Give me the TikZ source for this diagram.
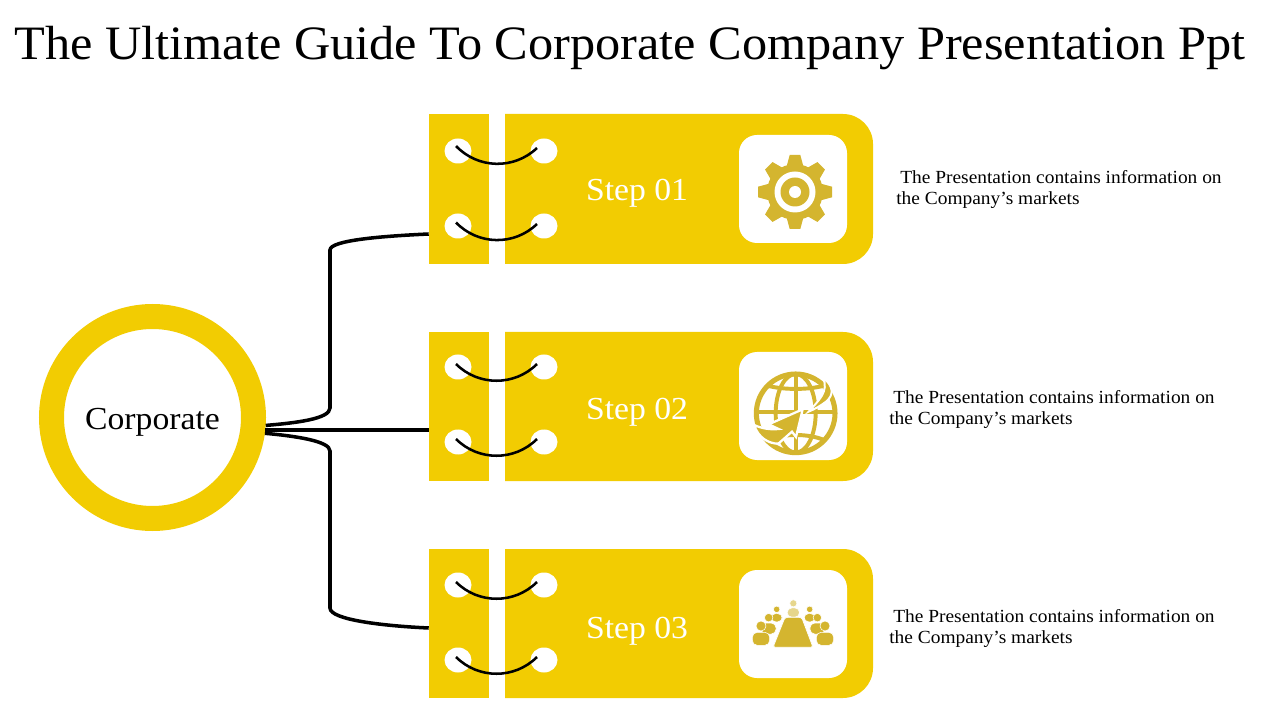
\documentclass[tikz,border=0pt]{standalone}
\usepackage{xcolor}
\usepackage{fontspec}
\setmainfont[FakeStretch=1.05]{Liberation Serif}
\usepackage{pgf,tikz}
\usetikzlibrary{shapes.geometric,positioning,calc}
\definecolor{cardfill}{HTML}{F2CC02}
\definecolor{iconfill}{HTML}{D4B52F}
\definecolor{iconpale}{HTML}{E6D68C}
\newcommand{\px}{0.025cm}
\tikzset{
  ringnode/.style={shape=circle,draw=cardfill,line width=25*\px,minimum size=202*\px,inner sep=0,outer sep=12.5*\px,font=\fontsize{22.8}{26}\selectfont},
  flapnode/.style={shape=rectangle,fill=cardfill,minimum width=60*\px,minimum height=150*\px,inner sep=0},
  iconbox/.style={shape=rectangle,fill=white,rounded corners=0.45cm,minimum size=108*\px,inner sep=0},
  hole/.style={shape=ellipse,fill=white,minimum width=27*\px,minimum height=25*\px,inner sep=0},
  lace/.style={draw=black,line width=1.8pt},
  wire/.style={draw=black,line width=2.5pt},
  steplabel/.style={text=white,inner sep=0,font=\fontsize{22.8}{26}\selectfont},
  infotext/.style={anchor=west,align=left,inner sep=0,font=\fontsize{13.15}{14.9}\selectfont},
  iconline/.style={draw=iconfill,line width=2.8pt},
  person/.pic={
    \path[pic actions,draw=white,line width=0.4pt,rounded corners=0.12cm] (-26,19) rectangle (26,58);
    \path[pic actions,draw=white,line width=0.4pt] (0,0) circle [radius=15];
  },
  gearbar/.pic={
    \fill[iconfill] (-37,-5.3) -- (-27,-8) -- (27,-8) -- (37,-5.3) -- (37,5.3) -- (27,8) -- (-27,8) -- (-37,5.3) -- cycle;
  }
}
\begin{document}
\begin{tikzpicture}[x=0.025cm,y=-0.025cm]
    \useasboundingbox (0,0) rectangle (1280,720);
    \node[inner sep=0,font=\fontsize{34.1}{40}\selectfont] (title) at (630,48) {The Ultimate Guide To Corporate Company Presentation Ppt};
    \node[ringnode] (corp) at (152.5,417.5) {\raisebox{-3.2pt}[15pt][5pt]{Corporate}};
    % first card
    \node[flapnode] (flapa) at (459,189) {};
    \fill[cardfill] (505,114) [rounded corners=0.75cm] -- (873,114) -- (873,264) [sharp corners] -- (505,264) -- cycle;
    \node[iconbox] (boxa) at (793,189) {};
    \node[hole] (holeaa) at (458,151) {};
    \node[hole] (holeab) at (544,151) {};
    \node[hole] (holeac) at (458,226) {};
    \node[hole] (holead) at (544,226) {};
    \path [lace]([shift={(-2,-5)}]holeaa.center) edge[bend right=45] ([shift={(-7,-3)}]holeab.center);
    \path [lace]([shift={(-2,-3.5)}]holeac.center) edge[bend right=45] ([shift={(-7,-2)}]holead.center);
    \node[steplabel] (stepa) at (637,193) {Step 01};
    \node[infotext] (infoa) at (896,189.5) {\hspace*{0.1cm}The Presentation contains information on\\the Company’s markets};
    % second card
    \node[flapnode,minimum height=149*\px] (flapb) at (459,406.5) {};
    \fill[cardfill] (505,332) [rounded corners=0.75cm] -- (873,332) -- (873,481) [sharp corners] -- (505,481) -- cycle;
    \node[iconbox] (boxb) at (793,406) {};
    \node[hole] (holeba) at (458,367) {};
    \node[hole] (holebb) at (544,367) {};
    \node[hole] (holebc) at (458,442) {};
    \node[hole] (holebd) at (544,442) {};
    \path [lace]([shift={(-2,-3)}]holeba.center) edge[bend right=45] ([shift={(-7,-3)}]holebb.center);
    \path [lace]([shift={(-2,-3)}]holebc.center) edge[bend right=45] ([shift={(-7,-3)}]holebd.center);
    \node[steplabel] (stepb) at (637,412) {Step 02};
    \node[infotext] (infob) at (889,409.5) {\hspace*{0.1cm}The Presentation contains information on\\the Company’s markets};
    % third card
    \node[flapnode,minimum height=149*\px] (flapc) at (459,623.5) {};
    \fill[cardfill] (505,549) [rounded corners=0.75cm] -- (873,549) -- (873,698) [sharp corners] -- (505,698) -- cycle;
    \node[iconbox] (boxc) at (793,624) {};
    \node[hole] (holeca) at (458,585) {};
    \node[hole] (holecb) at (544,585) {};
    \node[hole] (holecc) at (458,660) {};
    \node[hole] (holecd) at (544,660) {};
    \path [lace]([shift={(-2,-3)}]holeca.center) edge[bend right=45] ([shift={(-7,-3)}]holecb.center);
    \path [lace]([shift={(-2,-3)}]holecc.center) edge[bend right=45] ([shift={(-7,-3)}]holecd.center);
    \node[steplabel] (stepc) at (637,631) {Step 03};
    \node[infotext] (infoc) at (889,628.5) {\hspace*{0.1cm}The Presentation contains information on\\the Company’s markets};
    % connectors
    \coordinate (inb) at ([yshift=-23.5*\px]flapb.west);
    \draw[wire] (corp.-4) .. controls (295,423) and (330,419) .. (330,408) -- (330,250) .. controls (330,240) and (385,236) .. ([yshift=-45*\px]flapa.west);
    \draw[wire,line width=2.9pt] (corp.-6.3 |- inb) -- (inb);
    \draw[wire] (corp.-8) .. controls (295,436) and (330,441) .. (330,451) -- (330,608) .. controls (330,620) and (385,626) .. ([yshift=-4.5*\px]flapc.west);
    % gear icon
    \coordinate (gear) at (795,192);
    \pic[rotate=0] at (gear) {gearbar};
    \pic[rotate=45] at (gear) {gearbar};
    \pic[rotate=90] at (gear) {gearbar};
    \pic[rotate=135] at (gear) {gearbar};
    \fill[iconfill] (gear) circle [radius=28];
    \fill[white] (gear) circle [radius=20.5];
    \fill[iconfill] (gear) circle [radius=14.5];
    \fill[white] (gear) circle [radius=6];
    % globe icon
    \begin{scope}[shift={(730,345)},scale=0.3333]
      \coordinate (globe) at (197,205);
      \draw[iconline,line width=3.6pt] (globe) circle [radius=118];
      \draw[iconline] (globe) ellipse [x radius=60,y radius=118];
      \draw[iconline] (197,87) -- (197,323);
      \draw[iconline] (80,200) -- (320,200);
      \draw[iconline] (112,122) .. controls (160,135) and (235,135) .. (282,122);
      \draw[iconline] (112,285) .. controls (160,265) and (235,265) .. (282,285);
      \filldraw[iconfill,draw=white,line width=1.4pt] (278,96) .. controls (312,125) and (312,150) .. (288,170) .. controls (272,182) and (255,192) .. (236,200) .. controls (262,170) and (300,140) .. cycle;
      \filldraw[iconfill,draw=white,line width=1.6pt] (218,193) -- (116,238) -- (146,252) .. controls (120,255) and (95,250) .. (72,240) .. controls (85,278) and (115,296) .. (145,296) -- (186,260) -- (198,276) -- cycle;
    \end{scope}
    % meeting icon
    \begin{scope}[shift={(730,565)},scale=0.3333]
      \pic[fill=iconpale,scale=0.24] at (190,115) {person};
      \pic[fill=iconfill,scale=0.217] at (140,133) {person};
      \pic[fill=iconfill,scale=0.217] at (239,133) {person};
      \pic[fill=iconfill,scale=0.283] at (116,158) {person};
      \pic[fill=iconfill,scale=0.283] at (262,158) {person};
      \pic[fill=iconfill,scale=0.333] at (93,183) {person};
      \pic[fill=iconfill,scale=0.333] at (285,183) {person};
      \filldraw[iconfill,draw=white,line width=0.5pt,rounded corners=0.06cm] (165,157) -- (215,157) -- (249,247) -- (129,247) -- cycle;
    \end{scope}
\end{tikzpicture}
\end{document}
